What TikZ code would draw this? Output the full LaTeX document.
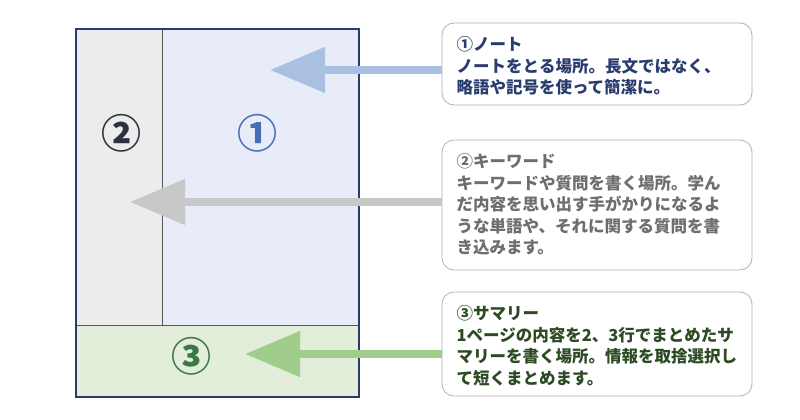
\documentclass[tikz,border=0pt]{standalone}
\usepackage{fontspec}
\setmainfont{Noto Sans CJK JP}
\usetikzlibrary{arrows.meta}
\definecolor{pageblue}{RGB}{232,236,248}
\definecolor{pagegray}{RGB}{236,236,236}
\definecolor{pagegreen}{RGB}{226,238,218}
\definecolor{frameblue}{RGB}{40,60,110}
\definecolor{arrblue}{RGB}{170,192,226}
\definecolor{arrgray}{RGB}{200,200,200}
\definecolor{arrgreen}{RGB}{160,204,140}
\definecolor{txtblue}{RGB}{40,60,110}
\definecolor{txtgray}{RGB}{110,110,110}
\definecolor{txtgreen}{RGB}{45,75,35}
\definecolor{numblue}{RGB}{70,110,180}
\definecolor{numdark}{RGB}{45,50,65}
\definecolor{numgreen}{RGB}{60,120,70}
\tikzset{
  callout/.style={draw=gray!60,rounded corners=12pt,line width=0.8pt,fill=white},
  calltext/.style={anchor=north west,align=left,font=\fontsize{16.5}{21.5}\selectfont\bfseries},
  bignum/.style={font=\fontsize{40}{40}\selectfont\bfseries},
  fatarrow/.style={line width=8pt,-{Triangle[length=55pt,width=44pt]}}
}
\begin{document}
\begin{tikzpicture}[x=1pt,y=-1pt]
\useasboundingbox (0,0) rectangle (800,420);
\fill[white] (0,0) rectangle (800,420);
\draw[fill=pagegray,draw=none] (76,29) rectangle (162,325);
\draw[fill=pageblue,draw=none] (162,29) rectangle (359,325);
\draw[fill=pagegreen,draw=none] (76,325) rectangle (359,397);
\draw[gray!70!black,thin] (162,29) -- (162,325);
\draw[gray!70!black,thin] (76,325) -- (359,325);
\draw[frameblue,line width=2pt] (76,29) rectangle (359,397);

\node[bignum,text=numdark] (n2) at (121,133) {②};
\node[bignum,text=numblue] (n1) at (257,133) {①};
\node[bignum,text=numgreen] (n3) at (191,356) {③};

\draw[callout] (442,23) rectangle (752,105);
\node[calltext,text=txtblue] (t1) at (453,33) {①ノート\\ノートをとる場所。長文ではなく、\\略語や記号を使って簡潔に。};
\draw[callout] (442,140) rectangle (752,270);
\node[calltext,text=txtgray] (t2) at (453,150) {②キーワード\\キーワードや質問を書く場所。学ん\\だ内容を思い出す手がかりになるよ\\うな単語や、それに関する質問を書\\き込みます。};
\draw[callout] (442,292) rectangle (752,396);
\node[calltext,text=txtgreen] (t3) at (453,302) {③サマリー\\1ページの内容を2、3行でまとめたサ\\マリーを書く場所。情報を取捨選択し\\て短くまとめます。};

\coordinate (a1) at (442,70);
\coordinate (b1) at (270,70);
\coordinate (a2) at (442,202);
\coordinate (b2) at (130,202);
\coordinate (a3) at (442,354);
\coordinate (b3) at (245,354);
\draw[fatarrow,arrblue] (a1) -- (b1);
\draw[fatarrow,arrgray] (a2) -- (b2);
\draw[fatarrow,arrgreen] (a3) -- (b3);
\end{tikzpicture}
\end{document}
